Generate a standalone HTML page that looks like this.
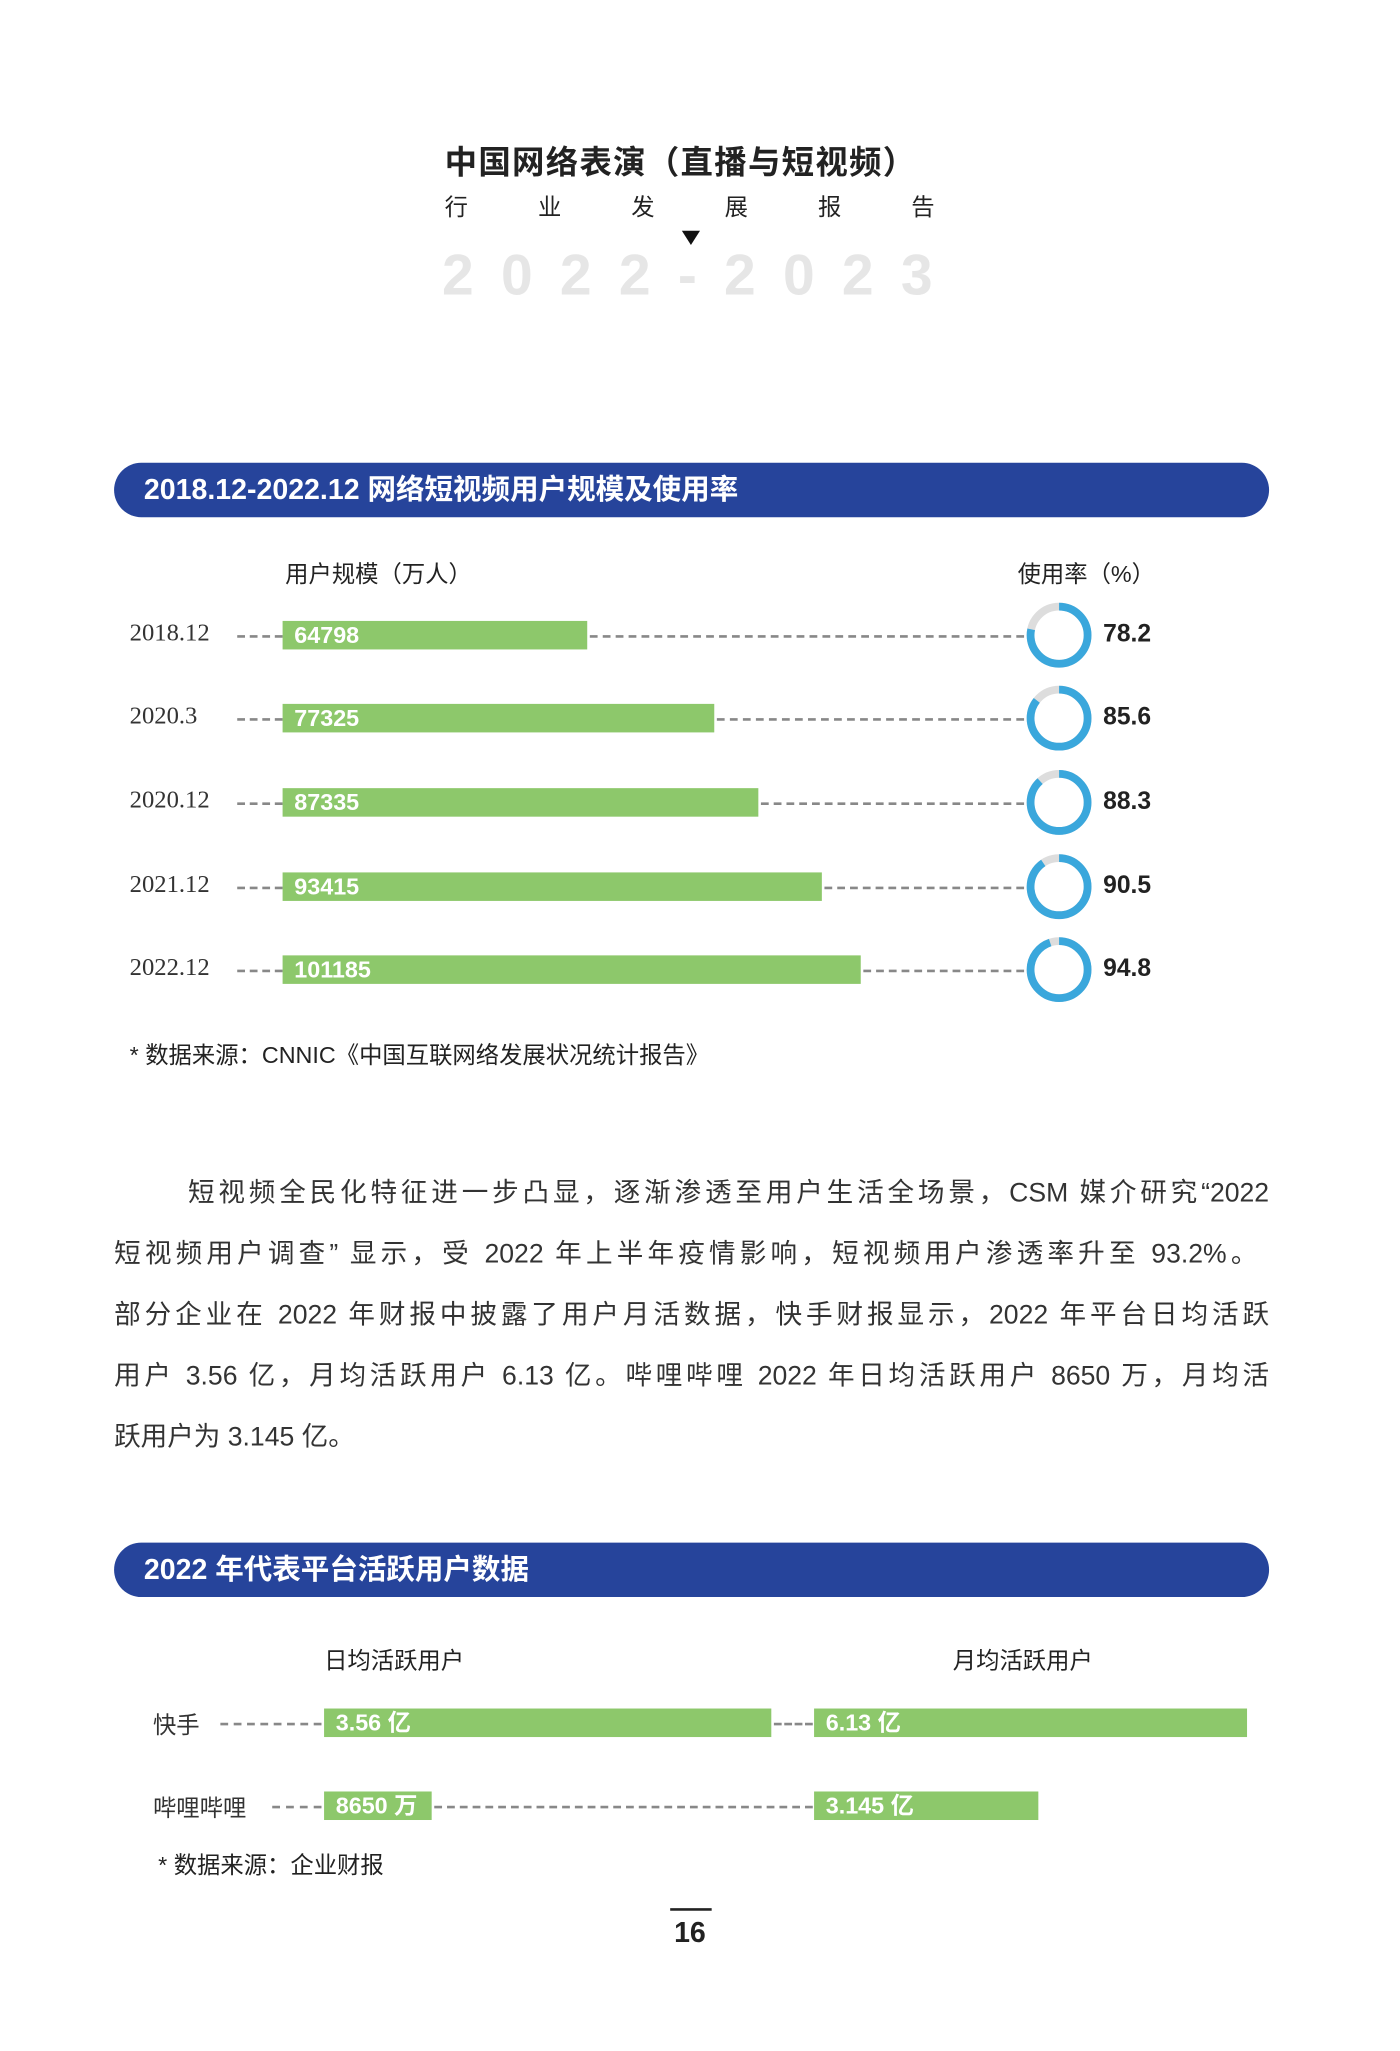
<!DOCTYPE html>
<html><head><meta charset="utf-8"><style>
html,body{margin:0;padding:0;background:#fff;}
body{width:1400px;height:2050px;overflow:hidden;position:relative;}
#w{position:absolute;left:0;top:0;width:1080px;height:1582px;transform:scale(1.2963);transform-origin:0 0;font-family:"Liberation Sans","Noto Sans CJK SC",sans-serif;color:#222;}
.a{position:absolute;white-space:nowrap;}
.ban{position:absolute;left:88px;width:891px;height:42px;background:#26449b;border-radius:21px;color:#fff;font-weight:bold;font-size:22px;line-height:42px;}
.ban span{margin-left:23px;}
.bar{position:absolute;height:22px;background:#8dc86b;color:#fff;font-weight:bold;font-size:18px;line-height:22px;padding-left:9px;box-sizing:border-box;font-family:"Liberation Sans Narrow","Liberation Sans","Noto Sans CJK SC",sans-serif;}
.dash{position:absolute;border-top:2px dashed #888;height:0;}
.yl{position:absolute;font-family:"Liberation Serif",serif;font-size:19px;color:#333;}
.pv{position:absolute;font-weight:bold;font-size:19px;font-family:"Liberation Sans Narrow","Liberation Sans",sans-serif;}
.pl{position:absolute;left:88px;width:891px;font-size:20.5px;line-height:30px;color:#333;text-align:justify;text-align-last:justify;white-space:nowrap;}
</style></head><body><div id="w">
<div class="a" style="left:343px;top:106px;font-size:25px;font-weight:bold;letter-spacing:1px;font-family:'Noto Sans CJK SC',sans-serif;">中国网络表演（直播与短视频）</div>
<div class="a" style="left:343px;top:146px;font-size:18px;font-family:'Noto Sans CJK SC',sans-serif;">
<span style="position:absolute;left:0">行</span><span style="position:absolute;left:72px">业</span><span style="position:absolute;left:144px">发</span><span style="position:absolute;left:216px">展</span><span style="position:absolute;left:288px">报</span><span style="position:absolute;left:360px">告</span></div>
<div class="a" style="left:526px;top:178px;width:0;height:0;border-left:7px solid transparent;border-right:7px solid transparent;border-top:11px solid #111;"></div>
<div class="a" style="left:341px;top:188px;font-size:44px;font-weight:bold;color:#e6e6e6;letter-spacing:21px;">2022-2023</div>

<div class="ban" style="top:357px"><span>2018.12-2022.12 网络短视频用户规模及使用率</span></div>
<div class="a" style="left:220px;top:429px;font-size:18px;">用户规模（万人）</div>
<div class="a" style="left:785px;top:429px;font-size:18px;">使用率（%）</div>

<div class="yl" style="left:100px;top:478px">2018.12</div><div class="dash" style="left:183px;top:490px;width:35px"></div>
<div class="bar" style="left:218px;top:479px;width:235px">64798</div><div class="dash" style="left:455px;top:490px;width:335px"></div>
<div class="yl" style="left:100px;top:542px">2020.3</div><div class="dash" style="left:183px;top:554px;width:35px"></div>
<div class="bar" style="left:218px;top:543px;width:333px">77325</div><div class="dash" style="left:553px;top:554px;width:237px"></div>
<div class="yl" style="left:100px;top:607px">2020.12</div><div class="dash" style="left:183px;top:619px;width:35px"></div>
<div class="bar" style="left:218px;top:608px;width:367px">87335</div><div class="dash" style="left:587px;top:619px;width:203px"></div>
<div class="yl" style="left:100px;top:672px">2021.12</div><div class="dash" style="left:183px;top:684px;width:35px"></div>
<div class="bar" style="left:218px;top:673px;width:416px">93415</div><div class="dash" style="left:636px;top:684px;width:154px"></div>
<div class="yl" style="left:100px;top:736px">2022.12</div><div class="dash" style="left:183px;top:748px;width:35px"></div>
<div class="bar" style="left:218px;top:737px;width:446px">101185</div><div class="dash" style="left:666px;top:748px;width:124px"></div>

<svg class="a" style="left:790px;top:460px" width="60" height="330">
<g fill="none" stroke-width="6">
<circle cx="27" cy="30" r="22" stroke="#ddd"/><circle cx="27" cy="30" r="22" stroke="#3aa7dc" stroke-dasharray="108.1 200" transform="rotate(-90 27 30)"/>
<circle cx="27" cy="94" r="22" stroke="#ddd"/><circle cx="27" cy="94" r="22" stroke="#3aa7dc" stroke-dasharray="118.3 200" transform="rotate(-90 27 94)"/>
<circle cx="27" cy="159" r="22" stroke="#ddd"/><circle cx="27" cy="159" r="22" stroke="#3aa7dc" stroke-dasharray="122 200" transform="rotate(-90 27 159)"/>
<circle cx="27" cy="224" r="22" stroke="#ddd"/><circle cx="27" cy="224" r="22" stroke="#3aa7dc" stroke-dasharray="125.1 200" transform="rotate(-90 27 224)"/>
<circle cx="27" cy="288" r="22" stroke="#ddd"/><circle cx="27" cy="288" r="22" stroke="#3aa7dc" stroke-dasharray="131 200" transform="rotate(-90 27 288)"/>
</g></svg>
<div class="pv" style="left:851px;top:479px">78.2</div>
<div class="pv" style="left:851px;top:543px">85.6</div>
<div class="pv" style="left:851px;top:608px">88.3</div>
<div class="pv" style="left:851px;top:673px">90.5</div>
<div class="pv" style="left:851px;top:737px">94.8</div>
<div class="a" style="left:100px;top:800px;font-size:18px;">* 数据来源：CNNIC《中国互联网络发展状况统计报告》</div>

<div class="pl" style="top:906px;left:145px;width:834px">短视频全民化特征进一步凸显，逐渐渗透至用户生活全场景，CSM 媒介研究“2022</div>
<div class="pl" style="top:953px;width:882px">短视频用户调查” 显示，受 2022 年上半年疫情影响，短视频用户渗透率升至 93.2%。</div>
<div class="pl" style="top:1000px">部分企业在 2022 年财报中披露了用户月活数据，快手财报显示，2022 年平台日均活跃</div>
<div class="pl" style="top:1047px">用户 3.56 亿，月均活跃用户 6.13 亿。哔哩哔哩 2022 年日均活跃用户 8650 万，月均活</div>
<div class="a" style="top:1094px;left:88px;font-size:20.5px;line-height:30px;color:#333">跃用户为 3.145 亿。</div>

<div class="ban" style="top:1190px"><span>2022 年代表平台活跃用户数据</span></div>
<div class="a" style="left:250px;top:1267px;font-size:18px;">日均活跃用户</div>
<div class="a" style="left:735px;top:1267px;font-size:18px;">月均活跃用户</div>
<div class="a" style="left:118px;top:1317px;font-size:18px;color:#333">快手</div><div class="dash" style="left:170px;top:1329px;width:78px"></div>
<div class="bar" style="left:250px;top:1318px;width:345px">3.56 亿</div><div class="dash" style="left:597px;top:1329px;width:30px"></div>
<div class="bar" style="left:628px;top:1318px;width:334px">6.13 亿</div>
<div class="a" style="left:118px;top:1381px;font-size:18px;color:#333">哔哩哔哩</div><div class="dash" style="left:210px;top:1393px;width:38px"></div>
<div class="bar" style="left:250px;top:1382px;width:83px">8650 万</div><div class="dash" style="left:335px;top:1393px;width:292px"></div>
<div class="bar" style="left:628px;top:1382px;width:173px">3.145 亿</div>
<div class="a" style="left:122px;top:1425px;font-size:18px;">* 数据来源：企业财报</div>
<div class="a" style="left:517px;top:1472px;width:32px;border-top:2px solid #222;"></div>
<div class="a" style="left:520px;top:1478px;font-size:22px;font-weight:bold;font-family:'Liberation Sans Narrow','Liberation Sans',sans-serif;">16</div>
</div></body></html>
